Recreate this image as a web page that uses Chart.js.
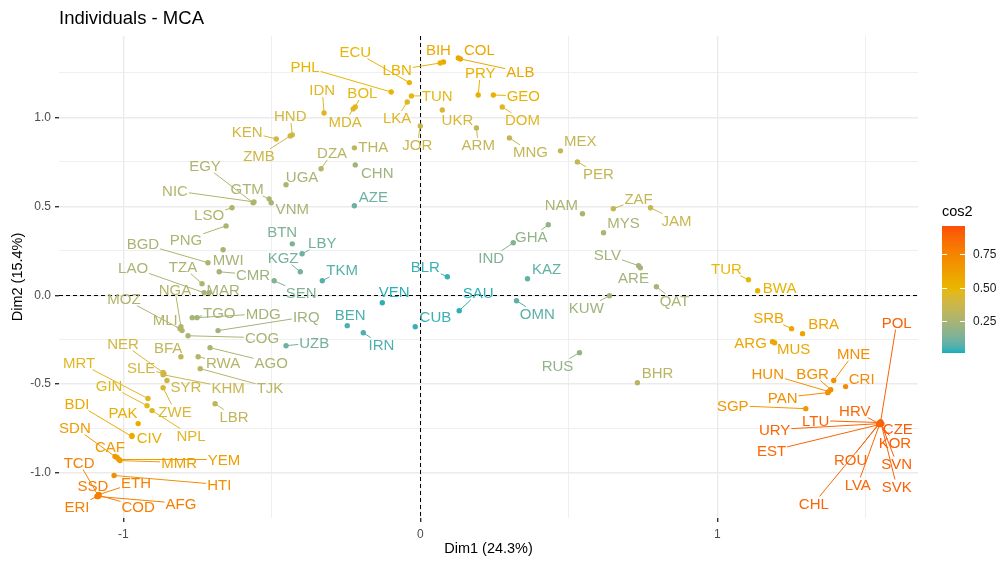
<!DOCTYPE html>
<html>
<head>
<meta charset="utf-8">
<title>Individuals - MCA</title>
<script src="https://cdn.jsdelivr.net/npm/chart.js@4.4.1/dist/chart.umd.min.js"></script>
<style>
  html, body { margin: 0; padding: 0; background: #fff; }
  #wrap { width: 999px; height: 565px; }
</style>
</head>
<body>
<div id="wrap"><canvas id="mcaChart" width="999" height="565"></canvas></div>
<script>
// ===== DATA =====
const countries = ['ECU','BIH','COL','LBN','ALB','PHL','PRY','GEO','IDN','BOL','MDA','TUN','LKA','UKR','DOM','HND','KEN','ZMB','DZA','THA','JOR','ARM','MNG','MEX','PER','CHN','EGY','UGA','GTM','NIC','VNM','AZE','ZAF','JAM','NAM','MYS','GHA','IND','LSO','PNG','BGD','MWI','CMR','TZA','LAO','MAR','NGA','MOZ','MLI','TGO','MDG','IRQ','COG','UZB','BTN','LBY','KGZ','TKM','SEN','BEN','IRN','VEN','BLR','CUB','SAU','OMN','KAZ','SLV','ARE','QAT','KUW','RUS','BHR','TUR','BWA','SRB','BRA','ARG','MUS','MNE','CRI','BGR','HUN','PAN','SGP','POL','HRV','LTU','URY','EST','CZE','KOR','SVN','ROU','LVA','SVK','CHL','BFA','RWA','AGO','NER','SLE','KHM','TJK','SYR','LBR','ZWE','MRT','GIN','NPL','PAK','BDI','CIV','SDN','CAF','MMR','YEM','TCD','HTI','ETH','SSD','ERI','COD','AFG'];

const dim1 = [-0.037,0.078,0.128,0.067,0.135,-0.098,0.195,0.246,-0.324,-0.219,-0.226,-0.030,-0.044,0.074,0.276,-0.431,-0.485,-0.438,-0.334,-0.222,0.000,0.189,0.300,0.472,0.529,-0.219,-0.563,-0.452,-0.509,-0.560,-0.502,-0.222,0.650,0.775,0.546,0.617,0.431,0.313,-0.634,-0.654,-0.715,-0.664,-0.677,-0.735,-0.728,-0.711,-0.806,-0.809,-0.802,-0.768,-0.752,-0.681,-0.782,-0.452,-0.431,-0.398,-0.404,-0.330,-0.492,-0.246,-0.192,-0.128,0.091,-0.017,0.131,0.324,0.361,0.735,0.741,0.795,0.637,0.536,0.731,1.105,1.136,1.250,1.287,1.186,1.193,1.392,1.432,1.382,1.375,1.372,1.298,1.550,1.544,1.547,1.550,1.547,1.554,1.550,1.552,1.544,1.547,1.552,1.544,-0.806,-0.748,-0.708,-0.866,-0.863,-0.866,-0.741,-0.853,-0.691,-0.866,-0.917,-0.920,-0.903,-0.950,-0.971,-0.971,-1.028,-1.021,-1.011,-1.015,-1.085,-1.031,-1.082,-1.085,-1.089,-1.082,-1.085];

const dim2 = [1.196,1.312,1.334,1.306,1.329,1.143,1.126,1.126,1.025,1.059,1.048,1.121,1.087,1.042,1.059,0.902,0.879,0.896,0.711,0.829,0.952,0.941,0.885,0.812,0.750,0.733,0.520,0.621,0.542,0.525,0.520,0.503,0.486,0.492,0.458,0.351,0.396,0.295,0.492,0.390,0.183,0.256,0.132,0.065,0.014,0.014,-0.177,-0.188,-0.199,-0.126,-0.126,-0.199,-0.228,-0.284,0.289,0.233,0.132,0.081,0.081,-0.171,-0.211,-0.042,0.104,-0.177,-0.087,-0.031,0.093,0.166,0.154,0.048,-0.003,-0.323,-0.492,0.087,0.025,-0.188,-0.216,-0.261,-0.267,-0.480,-0.514,-0.531,-0.542,-0.548,-0.638,-0.711,-0.722,-0.716,-0.722,-0.727,-0.722,-0.727,-0.722,-0.722,-0.724,-0.724,-0.727,-0.346,-0.346,-0.295,-0.435,-0.441,-0.447,-0.413,-0.480,-0.610,-0.520,-0.581,-0.621,-0.649,-0.722,-0.795,-0.789,-0.907,-0.913,-0.930,-0.924,-1.126,-1.014,-1.121,-1.126,-1.132,-1.126,-1.132];

const cos2 = [0.50,0.57,0.58,0.52,0.58,0.50,0.52,0.52,0.45,0.47,0.44,0.47,0.45,0.42,0.45,0.40,0.40,0.38,0.30,0.32,0.36,0.34,0.34,0.34,0.34,0.22,0.27,0.25,0.26,0.27,0.24,0.10,0.34,0.36,0.25,0.25,0.18,0.14,0.28,0.26,0.26,0.24,0.22,0.26,0.25,0.24,0.28,0.27,0.28,0.24,0.23,0.22,0.25,0.11,0.13,0.10,0.12,0.06,0.14,0.05,0.05,0.02,0.03,0.03,0.02,0.07,0.08,0.23,0.23,0.25,0.22,0.18,0.30,0.48,0.52,0.58,0.60,0.58,0.58,0.70,0.72,0.70,0.70,0.70,0.66,0.90,0.88,0.88,0.88,0.88,0.92,0.90,0.90,0.88,0.88,0.90,0.88,0.33,0.29,0.26,0.40,0.40,0.36,0.30,0.38,0.33,0.42,0.45,0.46,0.45,0.55,0.56,0.55,0.64,0.66,0.63,0.63,0.78,0.70,0.76,0.78,0.78,0.78,0.78];

// label positions after repel, in data units
const labelDim1 = [-0.219,0.061,0.199,-0.078,0.337,-0.388,0.202,0.347,-0.330,-0.195,-0.253,0.057,-0.078,0.125,0.344,-0.438,-0.583,-0.543,-0.297,-0.158,-0.010,0.195,0.371,0.539,0.600,-0.145,-0.725,-0.398,-0.583,-0.826,-0.431,-0.158,0.735,0.863,0.475,0.684,0.374,0.239,-0.711,-0.789,-0.934,-0.647,-0.563,-0.799,-0.967,-0.664,-0.826,-0.998,-0.859,-0.677,-0.529,-0.384,-0.533,-0.357,-0.465,-0.330,-0.462,-0.263,-0.401,-0.236,-0.131,-0.088,0.017,0.051,0.195,0.394,0.425,0.630,0.718,0.856,0.559,0.462,0.799,1.031,1.210,1.173,1.358,1.112,1.257,1.459,1.486,1.321,1.170,1.220,1.052,1.604,1.463,1.331,1.193,1.183,1.608,1.598,1.604,1.449,1.473,1.604,1.325,-0.849,-0.664,-0.502,-1.001,-0.940,-0.647,-0.506,-0.789,-0.627,-0.826,-1.149,-1.048,-0.772,-1.001,-1.156,-0.913,-1.163,-1.045,-0.812,-0.661,-1.149,-0.677,-0.957,-1.102,-1.156,-0.950,-0.806];

const labelDim2 = [1.370,1.379,1.379,1.267,1.256,1.284,1.250,1.121,1.154,1.138,0.975,1.121,0.997,0.986,0.986,1.008,0.919,0.784,0.801,0.834,0.846,0.846,0.806,0.868,0.683,0.688,0.728,0.666,0.598,0.587,0.486,0.553,0.542,0.419,0.508,0.407,0.329,0.211,0.452,0.312,0.289,0.199,0.115,0.160,0.154,0.031,0.031,-0.020,-0.138,-0.098,-0.104,-0.121,-0.239,-0.267,0.357,0.295,0.211,0.143,0.014,-0.110,-0.278,0.020,0.160,-0.121,0.014,-0.104,0.149,0.228,0.098,-0.031,-0.070,-0.396,-0.435,0.149,0.042,-0.126,-0.160,-0.267,-0.301,-0.329,-0.469,-0.441,-0.441,-0.576,-0.621,-0.154,-0.649,-0.705,-0.756,-0.874,-0.750,-0.829,-0.947,-0.924,-1.065,-1.076,-1.171,-0.295,-0.379,-0.379,-0.272,-0.407,-0.520,-0.520,-0.514,-0.683,-0.654,-0.379,-0.508,-0.789,-0.660,-0.610,-0.801,-0.744,-0.851,-0.941,-0.924,-0.941,-1.065,-1.053,-1.070,-1.188,-1.188,-1.171];

const xMajor = [-1, 0, 1];
const xMajorLabels = ['-1', '0', '1'];
const xMinor = [-0.5, 0.5, 1.5];
const yMajor = [-1, -0.5, 0, 0.5, 1];
const yMajorLabels = ['-1.0', '-0.5', '0.0', '0.5', '1.0'];
const yMinor = [-0.75, -0.25, 0.25, 0.75, 1.25];

const cos2Breaks = [0.25, 0.5, 0.75];
const cos2BreakLabels = ['0.25', '0.50', '0.75'];
const cos2Limits = [0.005, 0.965];
const gradientCols = ['#00AFBB', '#E7B800', '#FC4E07'];

// ===== COLOUR RAMP (Lab interpolation, like ggplot) =====
function hexToLab(hex) {
  const c = [1, 3, 5].map(i => parseInt(hex.substr(i, 2), 16) / 255)
    .map(v => v <= 0.04045 ? v / 12.92 : Math.pow((v + 0.055) / 1.055, 2.4));
  const X = (0.4124 * c[0] + 0.3576 * c[1] + 0.1805 * c[2]) / 0.95047;
  const Y = (0.2126 * c[0] + 0.7152 * c[1] + 0.0722 * c[2]);
  const Z = (0.0193 * c[0] + 0.1192 * c[1] + 0.9505 * c[2]) / 1.08883;
  const f = t => t > 0.008856 ? Math.cbrt(t) : 7.787 * t + 16 / 116;
  return [116 * f(Y) - 16, 500 * (f(X) - f(Y)), 200 * (f(Y) - f(Z))];
}
function labToRgb(lab) {
  const fy = (lab[0] + 16) / 116, fx = fy + lab[1] / 500, fz = fy - lab[2] / 200;
  const inv = t => t * t * t > 0.008856 ? t * t * t : (t - 16 / 116) / 7.787;
  const X = inv(fx) * 0.95047, Y = inv(fy), Z = inv(fz) * 1.08883;
  const r = 3.2406 * X - 1.5372 * Y - 0.4986 * Z;
  const g = -0.9689 * X + 1.8758 * Y + 0.0415 * Z;
  const b = 0.0557 * X - 0.2040 * Y + 1.0570 * Z;
  const gam = v => {
    v = v <= 0.0031308 ? 12.92 * v : 1.055 * Math.pow(v, 1 / 2.4) - 0.055;
    return Math.round(Math.max(0, Math.min(1, v)) * 255);
  };
  return 'rgb(' + gam(r) + ',' + gam(g) + ',' + gam(b) + ')';
}
const labStops = gradientCols.map(hexToLab);
function colorFor(v) {
  let t = (v - cos2Limits[0]) / (cos2Limits[1] - cos2Limits[0]);
  t = Math.max(0, Math.min(1, t));
  const seg = t < 0.5 ? 0 : 1;
  const u = (t - seg * 0.5) * 2;
  const a = labStops[seg], b = labStops[seg + 1];
  return labToRgb([0, 1, 2].map(k => a[k] + (b[k] - a[k]) * u));
}

const FONT = '"Liberation Sans", Arial, sans-serif';
const pointColors = cos2.map(colorFor);

// ===== PLUGIN: zero lines, repel labels, titles, colourbar =====
const mcaDecor = {
  id: 'mcaDecor',
  beforeDatasetsDraw(chart) {
    const { ctx, chartArea: a, scales: { x, y } } = chart;
    ctx.save();
    ctx.strokeStyle = '#000';
    ctx.lineWidth = 1;
    ctx.setLineDash([4, 3]);
    const x0 = Math.round(x.getPixelForValue(0)) + 0.5;
    const y0 = Math.round(y.getPixelForValue(0)) + 0.5;
    ctx.beginPath();
    ctx.moveTo(x0, a.top); ctx.lineTo(x0, a.bottom);
    ctx.moveTo(a.left, y0); ctx.lineTo(a.right, y0);
    ctx.stroke();
    ctx.restore();
  },
  afterDatasetsDraw(chart) {
    const { ctx, scales: { x, y } } = chart;
    ctx.save();
    ctx.font = '15px ' + FONT;
    ctx.textAlign = 'center';
    ctx.textBaseline = 'middle';
    // segments go from the point towards the label centre, stopping at its box
    ctx.lineWidth = 1;
    countries.forEach((c, i) => {
      const px = x.getPixelForValue(dim1[i]);
      const py = y.getPixelForValue(dim2[i]);
      const lx = x.getPixelForValue(labelDim1[i]);
      const ly = y.getPixelForValue(labelDim2[i]);
      const hw = ctx.measureText(c).width / 2 + 1, hh = 7;
      const vx = px - lx, vy = py - ly;
      const s = Math.min(vx ? hw / Math.abs(vx) : Infinity, vy ? hh / Math.abs(vy) : Infinity);
      if (s >= 1) return;
      if (Math.hypot(vx, vy) * (1 - s) <= 7) return;
      ctx.strokeStyle = pointColors[i];
      ctx.beginPath();
      ctx.moveTo(px, py);
      ctx.lineTo(lx + vx * s, ly + vy * s);
      ctx.stroke();
    });
    countries.forEach((c, i) => {
      ctx.fillStyle = pointColors[i];
      ctx.fillText(c, x.getPixelForValue(labelDim1[i]), y.getPixelForValue(labelDim2[i]) + 1);
    });
    ctx.restore();
  },
  afterDraw(chart) {
    const { ctx, chartArea: a } = chart;
    ctx.save();
    // title
    ctx.fillStyle = '#000';
    ctx.font = '18.5px ' + FONT;
    ctx.textAlign = 'left';
    ctx.textBaseline = 'alphabetic';
    ctx.fillText('Individuals - MCA', 59, 24);
    // axis titles
    ctx.font = '14.5px ' + FONT;
    ctx.textAlign = 'center';
    ctx.textBaseline = 'middle';
    ctx.fillText('Dim1 (24.3%)', (a.left + a.right) / 2, 549);
    ctx.translate(18, (a.top + a.bottom) / 2);
    ctx.rotate(-Math.PI / 2);
    ctx.fillText('Dim2 (15.4%)', 0, 0);
    ctx.restore();

    // colourbar legend
    ctx.save();
    const barL = 942, barW = 23, barTop = 226, barBot = 353;
    ctx.fillStyle = '#000';
    ctx.font = '14.5px ' + FONT;
    ctx.textAlign = 'left';
    ctx.textBaseline = 'middle';
    ctx.fillText('cos2', barL, 212);
    for (let py = barTop; py < barBot; py++) {
      const v = cos2Limits[1] - (py + 0.5 - barTop) / (barBot - barTop) * (cos2Limits[1] - cos2Limits[0]);
      ctx.fillStyle = colorFor(v);
      ctx.fillRect(barL, py, barW, 1);
    }
    ctx.font = '12px ' + FONT;
    cos2Breaks.forEach((v, k) => {
      const ty = Math.round(barBot - (v - cos2Limits[0]) / (cos2Limits[1] - cos2Limits[0]) * (barBot - barTop)) + 0.5;
      ctx.strokeStyle = '#fff';
      ctx.lineWidth = 1;
      ctx.beginPath();
      ctx.moveTo(barL, ty); ctx.lineTo(barL + 5, ty);
      ctx.moveTo(barL + barW - 5, ty); ctx.lineTo(barL + barW, ty);
      ctx.stroke();
      ctx.fillStyle = '#1a1a1a';
      ctx.fillText(cos2BreakLabels[k], 973, ty);
    });
    ctx.restore();
  }
};

// ===== SCATTER =====
const isMajor = (list, v) => list.some(m => Math.abs(m - v) < 1e-9);

new Chart(document.getElementById('mcaChart'), {
  type: 'scatter',
  data: {
    datasets: [{
      label: 'Individuals',
      data: countries.map((c, i) => ({ x: dim1[i], y: dim2[i] })),
      pointBackgroundColor: pointColors,
      pointBorderWidth: 0,
      pointRadius: 2.7,
      pointHoverRadius: 2.7
    }]
  },
  options: {
    responsive: false,
    animation: false,
    devicePixelRatio: 1,
    layout: { padding: { top: 36, right: 81, left: 0, bottom: 0 } },
    plugins: { legend: { display: false }, tooltip: { enabled: false } },
    scales: {
      x: {
        type: 'linear',
        min: -1.2165,
        max: 1.6758,
        afterBuildTicks: s => { s.ticks = xMajor.concat(xMinor).sort((p, q) => p - q).map(v => ({ value: v })); },
        afterFit: s => { s.height = 47; },
        border: { display: false },
        grid: {
          color: '#ebebeb',
          lineWidth: c => isMajor(xMajor, c.tick.value) ? 1.4 : 0.8,
          tickLength: 4,
          tickColor: c => isMajor(xMajor, c.tick.value) ? '#333' : 'rgba(0,0,0,0)'
        },
        ticks: {
          autoSkip: false, maxRotation: 0, padding: 5,
          color: '#4d4d4d', font: { family: FONT, size: 12 },
          callback: v => { const k = xMajor.findIndex(m => Math.abs(m - v) < 1e-9); return k < 0 ? '' : xMajorLabels[k]; }
        }
      },
      y: {
        type: 'linear',
        min: -1.253,
        max: 1.458,
        afterBuildTicks: s => { s.ticks = yMajor.concat(yMinor).sort((p, q) => p - q).map(v => ({ value: v })); },
        afterFit: s => { s.width = 59; },
        border: { display: false },
        grid: {
          color: '#ebebeb',
          lineWidth: c => isMajor(yMajor, c.tick.value) ? 1.4 : 0.8,
          tickLength: 4,
          tickColor: c => isMajor(yMajor, c.tick.value) ? '#333' : 'rgba(0,0,0,0)'
        },
        ticks: {
          autoSkip: false, padding: 4,
          color: '#4d4d4d', font: { family: FONT, size: 12 },
          callback: v => { const k = yMajor.findIndex(m => Math.abs(m - v) < 1e-9); return k < 0 ? '' : yMajorLabels[k]; }
        }
      }
    }
  },
  plugins: [mcaDecor]
});
</script>
</body>
</html>
